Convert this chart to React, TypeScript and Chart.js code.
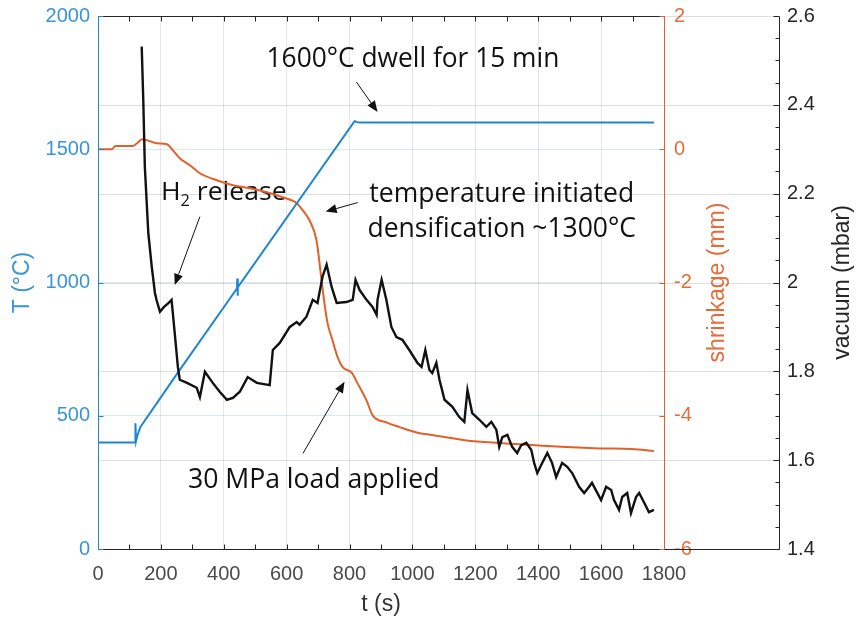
import React, { useEffect, useRef } from 'react';
import { Chart, registerables } from 'chart.js';

Chart.register(...registerables);

// ---------- data ----------
const tempTime = [0, 118, 119, 121, 125, 135, 260, 419, 442, 443, 444, 445, 816, 830, 1768];
const tempValues = [400, 400, 472, 405, 425, 458, 672, 939, 978, 1015, 950, 982, 1605, 1600, 1600];

const shrinkTime = [0, 45, 55, 110, 124, 140, 156, 187, 219, 238, 260, 292, 324, 378, 429, 483, 537, 587, 632, 651, 673, 695, 711, 721, 730, 746, 762, 778, 806, 825, 854, 873, 917, 959, 1013, 1063, 1171, 1276, 1381, 1489, 1594, 1698, 1768];
const shrinkValues = [0, 0, 0.05, 0.05, 0.09, 0.15, 0.135, 0.09, 0.075, -0.015, -0.135, -0.24, -0.36, -0.465, -0.54, -0.585, -0.645, -0.72, -0.81, -0.915, -1.07, -1.37, -1.97, -2.34, -2.61, -2.87, -3.12, -3.27, -3.35, -3.51, -3.77, -3.99, -4.1, -4.17, -4.25, -4.29, -4.37, -4.41, -4.44, -4.47, -4.49, -4.5, -4.53];

const vacTime = [139, 144, 149, 160, 171, 181, 186, 197, 210, 223, 234, 244, 254, 260, 283, 314, 324, 340, 365, 387, 410, 429, 451, 476, 505, 546, 556, 578, 610, 632, 641, 663, 683, 698, 714, 727, 743, 759, 790, 810, 819, 832, 854, 873, 886, 889, 902, 917, 933, 949, 968, 990, 1016, 1029, 1041, 1054, 1063, 1076, 1086, 1102, 1127, 1149, 1165, 1175, 1190, 1213, 1235, 1251, 1267, 1276, 1286, 1302, 1317, 1333, 1346, 1362, 1378, 1387, 1397, 1413, 1429, 1444, 1457, 1476, 1492, 1508, 1530, 1546, 1562, 1571, 1600, 1616, 1632, 1641, 1657, 1667, 1683, 1695, 1711, 1721, 1737, 1752, 1768];
const vacValues = [2.531, 2.411, 2.26, 2.111, 2.035, 1.977, 1.961, 1.934, 1.945, 1.953, 1.961, 1.886, 1.81, 1.781, 1.774, 1.763, 1.742, 1.799, 1.774, 1.754, 1.736, 1.74, 1.754, 1.787, 1.774, 1.769, 1.848, 1.864, 1.9, 1.911, 1.905, 1.923, 1.961, 1.954, 2.013, 2.04, 1.99, 1.954, 1.956, 1.961, 2.006, 1.983, 1.961, 1.945, 1.927, 1.961, 2.006, 1.961, 1.9, 1.877, 1.871, 1.848, 1.819, 1.81, 1.848, 1.803, 1.796, 1.819, 1.781, 1.736, 1.72, 1.697, 1.686, 1.758, 1.706, 1.691, 1.675, 1.686, 1.668, 1.63, 1.652, 1.657, 1.63, 1.616, 1.634, 1.639, 1.623, 1.594, 1.571, 1.594, 1.616, 1.594, 1.562, 1.594, 1.585, 1.571, 1.54, 1.526, 1.54, 1.549, 1.51, 1.54, 1.533, 1.51, 1.488, 1.517, 1.526, 1.481, 1.517, 1.526, 1.504, 1.483, 1.488];

// tick labels
const xTicks = [0, 200, 400, 600, 800, 1000, 1200, 1400, 1600, 1800];
const tTicks = [0, 500, 1000, 1500, 2000];
const shrinkTicks = [-6, -4, -2, 0, 2];
const vacTicks = [1.4, 1.6, 1.8, 2.0, 2.2, 2.4, 2.6];

// annotations: text, data-space anchors (t start, t end, T baseline)
const notes = [
  { parts: [{ s: '1600°C dwell for 15 min' }], t0: 536, t1: 1467, T: 1810, size: 27 },
  { parts: [{ s: 'H' }, { s: '2', sub: true }, { s: ' release' }], t0: 200, t1: 600, T: 1310, size: 26 },
  { parts: [{ s: 'temperature initiated' }], t0: 863, t1: 1705, T: 1301, size: 28 },
  { parts: [{ s: 'densification ~1300°C' }], t0: 857, t1: 1711, T: 1172, size: 28 },
  { parts: [{ s: '30 MPa load applied' }], t0: 286, t1: 1086, T: 228, size: 28 },
];
const arrows = [
  { from: [822, 1752], to: [889, 1640] },
  { from: [324, 1247], to: [244, 991] },
  { from: [826, 1300], to: [724, 1266] },
  { from: [652, 359], to: [784, 628] },
];

const BLUE = '#1f87cf';
const BLUE_TXT = '#3896d6';
const ORANGE = '#e0612b';
const ORANGE_TXT = '#e56c38';
const DARK = '#262626';
const SANS = '"Liberation Sans", Arial, sans-serif';
const NOTE_FONT = '"Open Sans", "Noto Sans", sans-serif';

const decor = {
  id: 'decor',
  beforeDatasetsDraw(chart: any) {
    const { ctx, chartArea: a, scales } = chart;
    const xs = scales.x, yT = scales.y, y2 = scales.y2;
    ctx.save();
    // vacuum grid, extending to the vacuum axis
    ctx.strokeStyle = 'rgba(0,0,0,0.13)';
    ctx.lineWidth = 1;
    for (const v of vacTicks) {
      const py = Math.round(y2.getPixelForValue(v)) + 0.5;
      ctx.beginPath();
      ctx.moveTo(a.left, py);
      ctx.lineTo(y2.left, py);
      ctx.stroke();
    }
    // annotation text
    ctx.fillStyle = '#111';
    ctx.textBaseline = 'alphabetic';
    ctx.textAlign = 'left';
    for (const n of notes) {
      const px0 = xs.getPixelForValue(n.t0);
      const px1 = xs.getPixelForValue(n.t1);
      const base = yT.getPixelForValue(n.T);
      let total = 0;
      const widths: number[] = [];
      for (const p of n.parts as any[]) {
        ctx.font = `${p.sub ? Math.round(n.size * 0.62) : n.size}px ${NOTE_FONT}`;
        const w = ctx.measureText(p.s).width;
        widths.push(w);
        total += w;
      }
      const k = (px1 - px0) / total;
      ctx.save();
      ctx.translate(px0, base);
      ctx.scale(k, 1);
      let cx = 0;
      (n.parts as any[]).forEach((p, i) => {
        ctx.font = `${p.sub ? Math.round(n.size * 0.62) : n.size}px ${NOTE_FONT}`;
        ctx.fillText(p.s, cx, p.sub ? n.size * 0.24 : 0);
        cx += widths[i];
      });
      ctx.restore();
    }
    ctx.restore();
  },
  afterDatasetsDraw(chart: any) {
    const { ctx, chartArea: a, scales } = chart;
    const xs = scales.x, yT = scales.y, y1 = scales.y1, y2 = scales.y2;
    ctx.save();
    // arrows
    ctx.strokeStyle = '#111';
    ctx.fillStyle = '#111';
    ctx.lineWidth = 1;
    for (const ar of arrows) {
      const x1 = xs.getPixelForValue(ar.from[0]);
      const yy1 = yT.getPixelForValue(ar.from[1]);
      const x2 = xs.getPixelForValue(ar.to[0]);
      const yy2 = yT.getPixelForValue(ar.to[1]);
      const ang = Math.atan2(yy2 - yy1, x2 - x1);
      const L = 11, W = 4.5;
      const bx = x2 - L * Math.cos(ang), by = yy2 - L * Math.sin(ang);
      ctx.beginPath();
      ctx.moveTo(x1, yy1);
      ctx.lineTo(bx, by);
      ctx.stroke();
      ctx.beginPath();
      ctx.moveTo(x2, yy2);
      ctx.lineTo(bx + W * Math.sin(ang), by - W * Math.cos(ang));
      ctx.lineTo(bx - W * Math.sin(ang), by + W * Math.cos(ang));
      ctx.closePath();
      ctx.fill();
    }
    // axis lines
    const L = Math.round(a.left) + 0.5, R = Math.round(a.right) + 0.5, T = Math.round(a.top) + 0.5, B = Math.round(a.bottom) + 0.5;
    const V = Math.round(y2.left) + 0.5;
    ctx.lineWidth = 1;
    ctx.strokeStyle = DARK;
    ctx.beginPath();
    ctx.moveTo(L, T); ctx.lineTo(R, T);
    ctx.moveTo(L, B); ctx.lineTo(V, B);
    ctx.moveTo(V, T); ctx.lineTo(V, B);
    ctx.stroke();
    ctx.strokeStyle = BLUE;
    ctx.beginPath(); ctx.moveTo(L, T); ctx.lineTo(L, B); ctx.stroke();
    ctx.strokeStyle = ORANGE;
    ctx.beginPath(); ctx.moveTo(R, T); ctx.lineTo(R, B); ctx.stroke();
    // x ticks (major + minor), bottom and top, pointing inward
    ctx.strokeStyle = DARK;
    ctx.beginPath();
    for (let t = 100; t < 1800; t += 100) {
      const px = Math.round(xs.getPixelForValue(t)) + 0.5;
      ctx.moveTo(px, B); ctx.lineTo(px, B - 5);
      ctx.moveTo(px, T); ctx.lineTo(px, T + 5);
    }
    ctx.stroke();
    // vacuum ticks
    ctx.beginPath();
    for (let i = 0; i <= 24; i++) {
      const v = 1.4 + i * 0.05;
      const py = Math.round(y2.getPixelForValue(v)) + 0.5;
      ctx.moveTo(V, py); ctx.lineTo(V - (i % 4 === 0 ? 6 : 4), py);
    }
    ctx.stroke();
    // T ticks
    ctx.strokeStyle = BLUE;
    ctx.beginPath();
    for (const v of tTicks) {
      const py = Math.round(yT.getPixelForValue(v)) + 0.5;
      ctx.moveTo(L, py); ctx.lineTo(L + 5, py);
    }
    ctx.stroke();
    // shrinkage ticks
    ctx.strokeStyle = ORANGE;
    ctx.beginPath();
    for (const v of shrinkTicks) {
      const py = Math.round(y1.getPixelForValue(v)) + 0.5;
      ctx.moveTo(R, py); ctx.lineTo(R - 5, py);
    }
    ctx.stroke();
    // right-hand axis titles (reading bottom to top)
    const midY = (a.top + a.bottom) / 2;
    ctx.font = `23px ${SANS}`;
    ctx.textAlign = 'center';
    ctx.textBaseline = 'middle';
    ctx.save();
    ctx.translate(y1.left + 54, midY);
    ctx.rotate(-Math.PI / 2);
    ctx.fillStyle = ORANGE_TXT;
    ctx.fillText('shrinkage (mm)', 0, 0);
    ctx.restore();
    ctx.save();
    ctx.translate(y2.left + 64, midY);
    ctx.rotate(-Math.PI / 2);
    ctx.fillStyle = DARK;
    ctx.fillText('vacuum (mbar)', 0, 0);
    ctx.restore();
    ctx.restore();
  },
};

const plain = (v: any) => String(Math.round(Number(v) * 10) / 10);
const fixWidth = (w: number) => (s: any) => {
  s.width = w;
  s.paddingTop = 0;
  s.paddingBottom = 0;
};

export default function App() {
  const ref = useRef<HTMLCanvasElement>(null);
  useEffect(() => {
    const canvas = ref.current!;
    const pts = (xs: number[], ys: number[]) => xs.map((x, i) => ({ x, y: ys[i] }));
    const chart = new Chart(canvas, {
      type: 'line',
      data: {
        datasets: [
          {
            label: 'vacuum (mbar)',
            data: pts(vacTime, vacValues),
            yAxisID: 'y2',
            borderColor: '#111111',
            borderWidth: 2.4,
            pointRadius: 0,
            tension: 0,
          },
          {
            label: 'T (°C)',
            data: pts(tempTime, tempValues),
            yAxisID: 'y',
            borderColor: BLUE,
            borderWidth: 2,
            pointRadius: 0,
            tension: 0,
          },
          {
            label: 'shrinkage (mm)',
            data: pts(shrinkTime, shrinkValues),
            yAxisID: 'y1',
            borderColor: ORANGE,
            borderWidth: 2,
            pointRadius: 0,
            cubicInterpolationMode: 'monotone',
          },
        ],
      },
      options: {
        responsive: false,
        animation: false,
        devicePixelRatio: 1,
        layout: { padding: { top: 16, left: 0, right: 0, bottom: 0 } },
        plugins: { legend: { display: false }, tooltip: { enabled: false } },
        scales: {
          x: {
            type: 'linear',
            min: 0,
            max: 1800,
            afterBuildTicks: (s: any) => { s.ticks = xTicks.map((v) => ({ value: v })); },
            afterFit: (s: any) => { s.height = 69; },
            grid: { color: 'rgba(70,80,110,0.14)', drawTicks: false },
            border: { display: false },
            ticks: { color: '#4a4a4a', font: { family: SANS, size: 20 }, padding: 13, maxRotation: 0, autoSkip: false, callback: plain },
            title: { display: true, text: 't (s)', color: '#333', font: { family: SANS, size: 23 }, padding: { top: 0, bottom: 0 } },
          },
          y: {
            type: 'linear',
            position: 'left',
            min: 0,
            max: 2000,
            afterBuildTicks: (s: any) => { s.ticks = tTicks.map((v) => ({ value: v })); },
            afterFit: fixWidth(98),
            grid: { color: 'rgba(0,114,189,0.16)', drawTicks: false },
            border: { display: false },
            ticks: { color: BLUE_TXT, font: { family: SANS, size: 20 }, padding: 8, callback: plain },
            title: { display: true, text: 'T (°C)', color: BLUE_TXT, font: { family: SANS, size: 23 }, padding: { top: 9, bottom: 0 } },
          },
          y1: {
            type: 'linear',
            position: 'right',
            weight: 0,
            min: -6,
            max: 2,
            afterBuildTicks: (s: any) => { s.ticks = shrinkTicks.map((v) => ({ value: v })); },
            afterFit: fixWidth(115),
            grid: { display: false, drawTicks: false },
            border: { display: false },
            ticks: { color: ORANGE_TXT, font: { family: SANS, size: 20 }, padding: 10, callback: plain },
          },
          y2: {
            type: 'linear',
            position: 'right',
            weight: 1,
            min: 1.4,
            max: 2.6,
            afterBuildTicks: (s: any) => { s.ticks = vacTicks.map((v) => ({ value: v })); },
            afterFit: fixWidth(77),
            grid: { display: false, drawTicks: false },
            border: { display: false },
            ticks: { color: DARK, font: { family: SANS, size: 20 }, padding: 8, callback: plain },
          },
        },
      } as any,
      plugins: [decor],
    });
    return () => chart.destroy();
  }, []);
  return (
    <div style={{ position: 'absolute', left: 0, top: 0, width: 856, height: 618, background: '#fff' }}>
      <canvas ref={ref} width={856} height={618} style={{ display: 'block' }} />
    </div>
  );
}
